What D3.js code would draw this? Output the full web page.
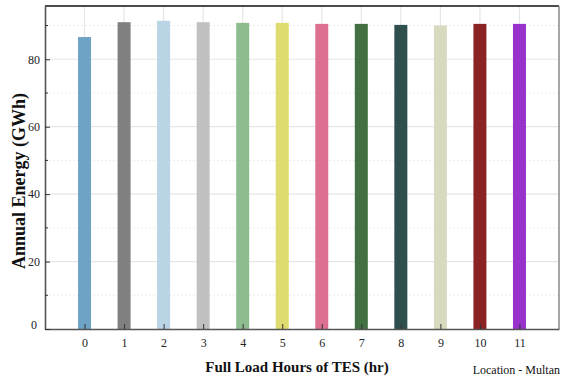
<!DOCTYPE html>
<html><head><meta charset="utf-8">
<script src="https://cdn.jsdelivr.net/npm/d3@7"></script>
<style>body{margin:0;background:#fff}svg{display:block}svg text{font-family:"Liberation Serif","Times New Roman","DejaVu Serif",serif}</style>
</head><body>
<script>
const categories = ["0","1","2","3","4","5","6","7","8","9","10","11"];
const values = [86.6, 91.0, 91.4, 91.0, 90.8, 90.8, 90.5, 90.5, 90.2, 90.0, 90.5, 90.5];
const colors = ["#6fa3c5","#808080","#b8d4e5","#c0c0c0","#8fbc8f","#dedc6e","#dd7090","#437043","#2f4f4f","#d8d9bf","#8b2325","#9932cc"];
const yTicks = [0,20,40,60,80];
const yMinor = [10,30,50,70,90];
const xLabel = "Full Load Hours of TES (hr)";
const yLabel = "Annual Energy (GWh)";
const note = "Location - Multan";

const W = 563, H = 379;
const m = {l:45, r:4, t:6, b:50};
const svg = d3.select("body").append("svg").attr("width",W).attr("height",H);
const x = d3.scaleLinear().domain([-1,12]).range([m.l, W-m.r]);
const y = d3.scaleLinear().domain([0,95.8]).range([H-m.b, m.t]);
const font = "Liberation Serif, Times New Roman, DejaVu Serif, serif";

// gridlines
const g = svg.append("g");
g.selectAll(".vg").data(categories).join("line")
  .attr("x1",(d,i)=>x(i)).attr("x2",(d,i)=>x(i)).attr("y1",y(0)).attr("y2",m.t)
  .attr("stroke","#e6e6e6").attr("stroke-width",1.2);
g.selectAll(".hg").data(yTicks.slice(1)).join("line")
  .attr("x1",m.l).attr("x2",W-m.r).attr("y1",d=>y(d)).attr("y2",d=>y(d))
  .attr("stroke","#e6e6e6").attr("stroke-width",1.2);
g.selectAll(".hm").data(yMinor).join("line")
  .attr("x1",m.l).attr("x2",W-m.r).attr("y1",d=>y(d)).attr("y2",d=>y(d))
  .attr("stroke","#ececec").attr("stroke-width",1).attr("stroke-dasharray","2,2");

// bars
const bw = 13;
svg.selectAll(".bar").data(values).join("rect")
  .attr("x",(d,i)=>x(i)-bw/2).attr("width",bw)
  .attr("y",d=>y(d)).attr("height",d=>y(0)-y(d))
  .attr("fill",(d,i)=>colors[i]);

// frame
svg.append("line").attr("x1",m.l).attr("x2",W-m.r).attr("y1",m.t).attr("y2",m.t).attr("stroke","#111").attr("stroke-width",1.6);
svg.append("line").attr("x1",W-m.r).attr("x2",W-m.r).attr("y1",m.t).attr("y2",y(0)).attr("stroke","#888").attr("stroke-width",1.5);

// axes
const xAxis = d3.axisBottom(x).tickValues(categories.map((d,i)=>i)).tickFormat((d)=>categories[d])
  .tickSizeInner(-5).tickSizeOuter(0).tickPadding(9);
const xa = svg.append("g").attr("transform",`translate(0,${y(0)})`).call(xAxis);
xa.select(".domain").attr("stroke","#555").attr("stroke-width",1.6);
xa.selectAll(".tick line").attr("stroke","#333");
xa.selectAll("text").attr("font-family",font).attr("font-size",12).attr("fill","#222");

const yAxis = d3.axisLeft(y).tickValues(yTicks).tickSizeInner(-5).tickSizeOuter(0).tickPadding(5);
const ya = svg.append("g").attr("transform",`translate(${m.l},0)`).call(yAxis);
ya.select(".domain").attr("stroke","#555").attr("stroke-width",1.6);
ya.selectAll(".tick line").attr("stroke","#333");
ya.selectAll("text").attr("font-family",font).attr("font-size",12).attr("fill","#222");
ya.selectAll(".tick").filter(d=>d===0).select("text").attr("dy","-0.05em").attr("x",-8);
svg.append("g").selectAll("line").data(yMinor).join("line")
  .attr("x1",m.l).attr("x2",m.l+3).attr("y1",d=>y(d)).attr("y2",d=>y(d)).attr("stroke","#333");

// labels
svg.append("text").attr("x",297).attr("y",372).attr("text-anchor","middle")
  .attr("font-family",font).attr("font-weight","bold").attr("font-size",15).attr("fill","#111").text(xLabel);
svg.append("text").attr("transform",`translate(25,181) rotate(-90)`).attr("text-anchor","middle")
  .attr("font-family",font).attr("font-weight","bold").attr("font-size",18).attr("fill","#111").text(yLabel);
svg.append("text").attr("x",560).attr("y",374).attr("text-anchor","end")
  .attr("font-family",font).attr("font-size",12).attr("fill","#111").text(note);
</script>
</body></html>
